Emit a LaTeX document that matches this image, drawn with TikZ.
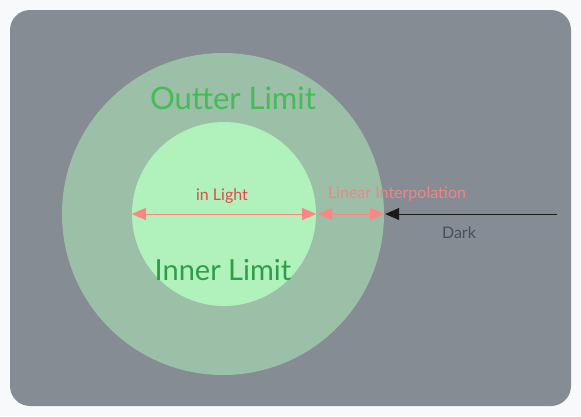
\documentclass[tikz,border=0pt]{standalone}
\usepackage{fontspec}
\setmainfont{Lato}
\usetikzlibrary{arrows.meta}
\definecolor{pagebg}{HTML}{F8F9FB}
\definecolor{panel}{HTML}{868C94}
\definecolor{outerfill}{HTML}{9BBFA7}
\definecolor{innerfill}{HTML}{B0F1BC}
\definecolor{salmon}{HTML}{FF8585}
\definecolor{lightred}{HTML}{E34A4A}
\definecolor{outergreen}{HTML}{45BC55}
\definecolor{innergreen}{HTML}{2F9E48}
\definecolor{darktext}{HTML}{4A4F57}
\tikzset{
  lim/.style={circle,inner sep=0pt,draw=none},
  span/.style={salmon,line width=0.8pt,{Triangle[length=14pt,width=12pt]}-{Triangle[length=14pt,width=12pt]}},
  label/.style={font=\fontsize{16}{18}\selectfont}
}
\begin{document}
\begin{tikzpicture}[x=1pt,y=-1pt]
  \fill[pagebg] (0,0) rectangle (581,416);
  \useasboundingbox (0,0) rectangle (581,416);
  \fill[panel,rounded corners=20pt] (10,10) rectangle (571,406);
\node[lim,fill=outerfill,minimum size=322pt] (outer) at (223,214) {};
\node[lim,fill=innerfill,minimum size=184pt] (inner) at (224,214) {};
\node[outergreen,font=\fontsize{31}{33}\selectfont] (outl) at (233,98) {Outter Limit};
\node[innergreen,font=\fontsize{29}{31}\selectfont] (innl) at (223,270) {Inner Limit};
  \coordinate (in0) at (inner.west);
  \coordinate (in1) at (inner.east);
  \coordinate (out1) at (outer.east);
  \coordinate (far) at (557,214);
\draw[span] (in0) -- (in1);
\draw[span] ([xshift=2pt]in1) -- (out1);
\draw[black!90,line width=0.8pt,-{Triangle[length=14pt,width=12pt]}] (far) -- ([xshift=1pt]out1);
\node[label,lightred] (light) at (222,196) {in Light};
\node[label,salmon!85!panel] (interp) at (397,194) {Linear Interpolation};
\node[label,darktext] (dark) at (459,233) {Dark};
\end{tikzpicture}
\end{document}
